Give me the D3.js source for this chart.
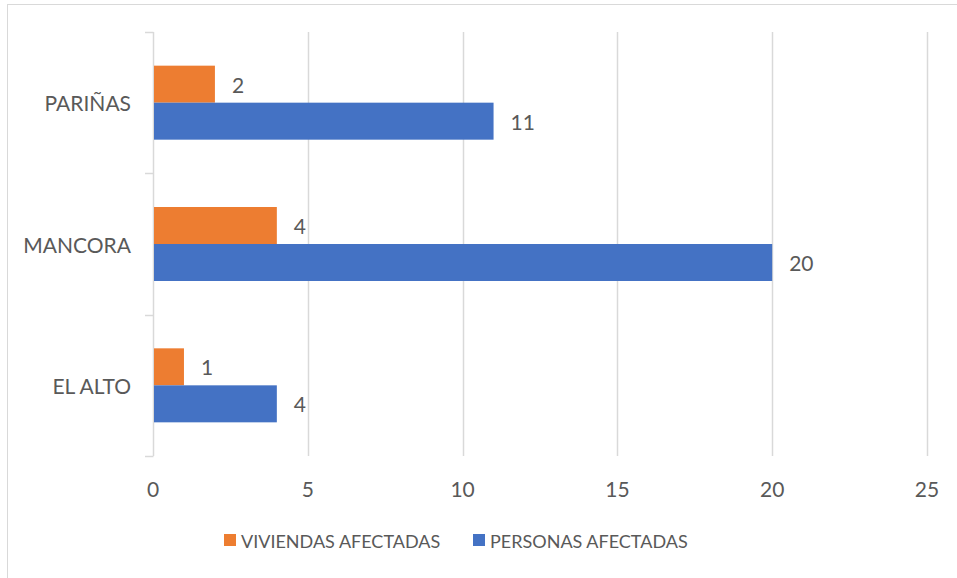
<!DOCTYPE html>
<html>
<head>
<meta charset="utf-8">
<script src="https://cdn.jsdelivr.net/npm/d3@7"></script>
<style>
  html, body { margin: 0; padding: 0; background: #fff; }
  svg { display: block; }
  text { font-family: Lato, "Liberation Sans", sans-serif; fill: #595959; }
</style>
</head>
<body>
<svg id="chart" width="957" height="578"></svg>
<script>
// Municipalities, drawn top to bottom
const categories = ["PARIÑAS", "MANCORA", "EL ALTO"];
const viviendas = [2, 4, 1];
const personas = [11, 20, 4];
const xTicks = [0, 5, 10, 15, 20, 25];
const seriesNames = ["VIVIENDAS AFECTADAS", "PERSONAS AFECTADAS"];
const seriesColors = ["#ED7D31", "#4472C4"];

const svg = d3.select("#chart");

// chart frame
svg.append("rect")
  .attr("x", 7.5).attr("y", 4.5)
  .attr("width", 960).attr("height", 590)
  .attr("fill", "none").attr("stroke", "#d9d9d9").attr("stroke-width", 1);

const plot = { left: 153, right: 927, top: 32, bottom: 456 };

const x = d3.scaleLinear().domain([0, 25]).range([plot.left, plot.right]);
const y = d3.scaleBand().domain(categories).range([plot.top, plot.bottom]).paddingInner(0).paddingOuter(0);
const groupH = 74;
const sub = d3.scaleBand().domain([0, 1]).range([0, groupH]);

// vertical gridlines
svg.append("g").selectAll("line").data(xTicks.filter(t => t > 0)).join("line")
  .attr("x1", d => Math.round(x(d)) + 0.5).attr("x2", d => Math.round(x(d)) + 0.5)
  .attr("y1", plot.top).attr("y2", plot.bottom)
  .attr("stroke", "#d9d9d9").attr("stroke-width", 1.5);

// category axis with ticks on the left
const yAxis = svg.append("g").attr("transform", `translate(${plot.left},0)`);
yAxis.append("line")
  .attr("x1", 0.5).attr("x2", 0.5).attr("y1", plot.top).attr("y2", plot.bottom)
  .attr("stroke", "#d9d9d9").attr("stroke-width", 1.5);
const bounds = [plot.top].concat(categories.map(c => y(c) + y.bandwidth()));
yAxis.selectAll("line.tick").data(bounds).join("line").attr("class", "tick")
  .attr("x1", -8).attr("x2", 0.5)
  .attr("y1", d => Math.round(d) + 0.5).attr("y2", d => Math.round(d) + 0.5)
  .attr("stroke", "#d9d9d9").attr("stroke-width", 1.5);

svg.append("g").selectAll("text").data(categories).join("text")
  .attr("x", 131)
  .attr("y", d => y(d) + y.bandwidth() / 2)
  .attr("text-anchor", "end")
  .attr("dominant-baseline", "central")
  .attr("font-size", 21)
  .text(d => d);

// value axis labels
svg.append("g").selectAll("text").data(xTicks).join("text")
  .attr("x", d => x(d))
  .attr("y", 488)
  .attr("text-anchor", "middle")
  .attr("dominant-baseline", "central")
  .attr("font-size", 21)
  .text(d => d);

// bars
const series = [viviendas, personas];
series.forEach((vals, si) => {
  const g = svg.append("g");
  const rows = categories.map((c, i) => ({ c, v: vals[i] }));
  const top = d => y(d.c) + (y.bandwidth() - groupH) / 2 + sub(si);
  g.selectAll("rect").data(rows).join("rect")
    .attr("x", x(0) + 1)
    .attr("y", top)
    .attr("width", d => x(d.v) - x(0) - 1)
    .attr("height", sub.bandwidth())
    .attr("fill", seriesColors[si]);
  g.selectAll("text").data(rows).join("text")
    .attr("x", d => x(d.v) + 17)
    .attr("y", d => top(d) + sub.bandwidth() / 2)
    .attr("dominant-baseline", "central")
    .attr("font-size", 21)
    .attr("fill", "#404040")
    .text(d => d.v);
});

// legend
const legend = svg.append("g");
const legendX = [224, 473];
seriesNames.forEach((name, i) => {
  legend.append("rect")
    .attr("x", legendX[i]).attr("y", 534)
    .attr("width", 12).attr("height", 12)
    .attr("fill", seriesColors[i]);
  legend.append("text")
    .attr("x", legendX[i] + 17).attr("y", 541)
    .attr("dominant-baseline", "central")
    .attr("font-size", 18)
    .text(name);
});
</script>
</body>
</html>
